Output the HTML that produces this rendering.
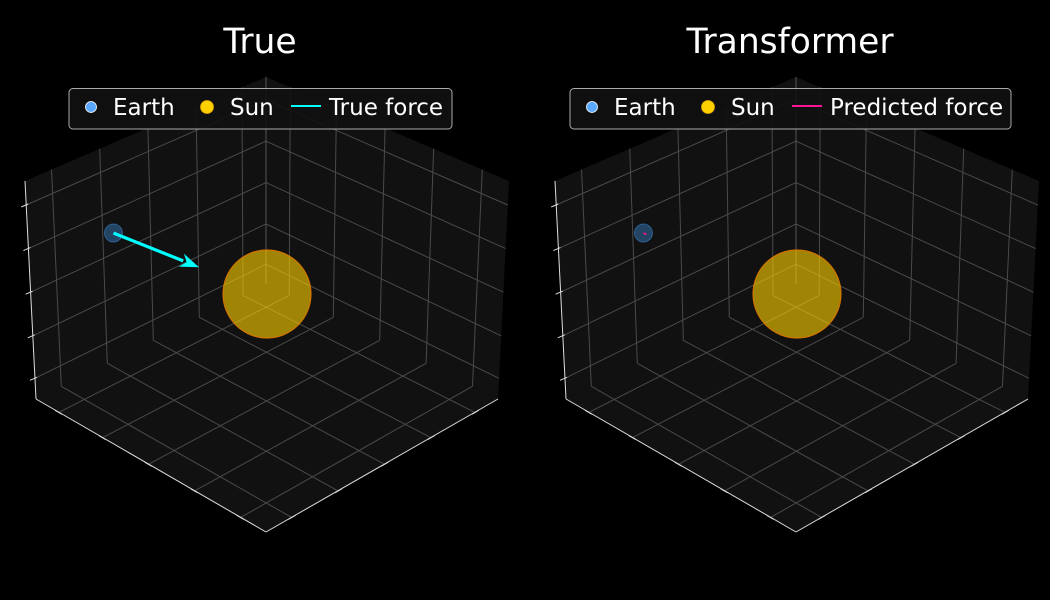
<!DOCTYPE html>
<html><head><meta charset="utf-8"><style>
html,body{margin:0;padding:0;background:#000;}
svg{display:block;font-family:"DejaVu Sans","Liberation Sans",sans-serif;}
</style></head><body>
<svg id="chart" width="1050" height="600" viewBox="0 0 1050 600" xmlns="http://www.w3.org/2000/svg">
<rect width="1050" height="600" fill="#000"/>
</svg>
<script>
// Data (axes range -2..2 on each axis)
const panelTitles = ["True", "Transformer"];
const forceLabels = ["True force", "Predicted force"];
const forceColors = ["#00ffff", "#ff1493"];
const sunPos = [0, 0, 0];
const earthPos = [-1.48, 1.16, 1.0];
const trueForce = [0.83, -0.65, -0.56];
const predForce = [0.03, -0.02, -0.02];
const gridFracA = [0.1, 0.29, 0.49, 0.69, 0.89];
const gridFracZ = [0.11, 0.31, 0.51, 0.71, 0.905];

const NS = "http://www.w3.org/2000/svg";
const svg = document.getElementById('chart');
function mk(tag, attrs, parent) {
  const e = document.createElementNS(NS, tag);
  for (const k in attrs) e.setAttribute(k, attrs[k]);
  (parent || svg).appendChild(e);
  return e;
}
function bil(q, u, v) {
  const [a, b, c, d] = q;
  return [
    a[0]*(1-u)*(1-v) + b[0]*u*(1-v) + c[0]*(1-u)*v + d[0]*u*v,
    a[1]*(1-u)*(1-v) + b[1]*u*(1-v) + c[1]*(1-u)*v + d[1]*u*v
  ];
}
function lineP(p, q, stroke, w, parent, name) {
  const l = mk('line', {x1: p[0], y1: p[1], x2: q[0], y2: q[1], stroke: stroke, 'stroke-width': w}, parent);
  
  
  return l;
}

function panel(idx, dx) {
  const g = mk('g', {});
  
  
  const P = (x, y) => [x + dx, y];
  const TB = P(266, 77), TL = P(25, 181), TR = P(509, 181);
  const B = P(266, 284), L = P(36, 399), R = P(498, 399), F = P(266, 532);
  const pane = (pts, name) => {
    const p = mk('polygon', {points: pts.map(p => p.join(',')).join(' '), fill: '#111111'}, g);
    
    
  };
  pane([L, B, R, F], 'floor-pane');
  pane([TL, TB, B, L], 'left-wall-pane');
  pane([TB, TR, R, B], 'right-wall-pane');
  const gc = '#4a4a4a';
  const floor = [L, F, B, R];
  gridFracA.forEach(u => lineP(bil(floor, u, 0), bil(floor, u, 1), gc, 1, g, 'floor-gridline'));
  gridFracA.forEach(f => { const v = 1 - f; lineP(bil(floor, 0, v), bil(floor, 1, v), gc, 1, g, 'floor-gridline'); });
  const lw = [L, B, TL, TB];
  gridFracA.forEach(f => { const u = 1 - f; lineP(bil(lw, u, 0), bil(lw, u, 1), gc, 1, g, 'left-wall-gridline'); });
  gridFracZ.forEach(z => { const v = 1 - z; lineP(bil(lw, 0, v), bil(lw, 1, v), gc, 1, g, 'left-wall-gridline'); });
  const rw = [B, R, TB, TR];
  gridFracA.forEach(u => lineP(bil(rw, u, 0), bil(rw, u, 1), gc, 1, g, 'right-wall-gridline'));
  gridFracZ.forEach(z => { const v = 1 - z; lineP(bil(rw, 0, v), bil(rw, 1, v), gc, 1, g, 'right-wall-gridline'); });
  lineP(TB, B, '#555', 1, g, 'back-edge');
  lineP(L, F, '#ddd', 1, g, 'x-axis-line');
  lineP(F, R, '#ddd', 1, g, 'y-axis-line');
  lineP(TL, L, '#ddd', 1, g, 'z-axis-line');
  gridFracA.forEach(u => { const p = bil(floor, u, 0); lineP([p[0]-4, p[1]-2], [p[0]+3, p[1]+2], '#ddd', 1, g, 'x-tick'); });
  gridFracA.forEach(f => { const p = bil(floor, 1, 1 - f); lineP([p[0]+4, p[1]-2], [p[0]-3, p[1]+2], '#ddd', 1, g, 'y-tick'); });
  gridFracZ.forEach(z => { const p = bil(lw, 0, 1 - z); lineP([p[0]-5, p[1]+2], [p[0]+2, p[1]-1], '#ddd', 1, g, 'z-tick'); });

  const origin = [266 + dx, 294];
  const ex = [58, 28.75], ey = [-57.5, 28.75], ez = [0, -51.75];
  const proj = p => [origin[0] + p[0]*ex[0] + p[1]*ey[0] + p[2]*ez[0],
                     origin[1] + p[0]*ex[1] + p[1]*ey[1] + p[2]*ez[1]];
  const s = proj(sunPos);
  const sun = mk('circle', {cx: s[0] + 1, cy: s[1], r: 44, fill: 'rgba(255,210,0,0.6)', stroke: 'rgba(220,120,0,0.9)', 'stroke-width': 1.2}, g);
  
  
  const e = proj(earthPos);
  const earth = mk('circle', {cx: e[0], cy: e[1], r: 9, fill: 'rgba(60,130,200,0.45)', stroke: 'rgba(60,130,200,0.6)', 'stroke-width': 1}, g);
  
  
  const f = idx === 0 ? trueForce : predForce;
  const tip = proj([earthPos[0]+f[0], earthPos[1]+f[1], earthPos[2]+f[2]]);
  const ddx = tip[0]-e[0], ddy = tip[1]-e[1];
  const len = Math.hypot(ddx, ddy) || 1;
  const ux = ddx/len, uy = ddy/len;
  const hl = Math.min(19, len*0.6), hw = Math.min(7, len*0.4);
  const base = [tip[0]-ux*hl, tip[1]-uy*hl];
  const col = forceColors[idx];
  const shaft = mk('line', {x1: e[0], y1: e[1], x2: base[0]+ux*2, y2: base[1]+uy*2, stroke: col, 'stroke-width': len > 10 ? 3.2 : 1.5}, g);
  
  
  const head = mk('polygon', {points: [tip, [base[0]-uy*hw, base[1]+ux*hw], [base[0]+ux*hl*0.3, base[1]+uy*hl*0.3], [base[0]+uy*hw, base[1]-ux*hw]].map(p => p.join(',')).join(' '), fill: col}, g);
  
  

  const t = mk('text', {x: 260 + dx, y: 53, fill: '#fff', 'font-size': 34.5, 'text-anchor': 'middle'}, g);
  t.textContent = panelTitles[idx];
  
  

  const lg = mk('g', {}, g);
  
  
  const lx = idx === 0 ? 69 : 570, rx = idx === 0 ? 452 : 1011;
  const box = mk('rect', {x: lx, y: 88.5, width: rx - lx, height: 40.5, rx: 4, fill: 'rgba(17,17,17,0.9)', stroke: '#aaa', 'stroke-width': 1}, lg);
  
  
  const m1 = mk('circle', {cx: lx + 22, cy: 107, r: 5.5, fill: '#5aa9ff', stroke: '#fff', 'stroke-width': 0.8}, lg);
  
  
  const t1 = mk('text', {x: lx + 44, y: 115, fill: '#fff', 'font-size': 23}, lg);
  t1.textContent = 'Earth';
  
  
  const m2 = mk('circle', {cx: lx + 138, cy: 107, r: 6.5, fill: '#ffd000', stroke: '#e0a000', 'stroke-width': 0.8}, lg);
  
  
  const t2 = mk('text', {x: lx + 161, y: 115, fill: '#fff', 'font-size': 23}, lg);
  t2.textContent = 'Sun';
  
  
  const l3 = mk('line', {x1: lx + 222, y1: 106, x2: lx + 252, y2: 106, stroke: col, 'stroke-width': 2}, lg);
  
  
  const t3 = mk('text', {x: lx + 260, y: 115, fill: '#fff', 'font-size': 23}, lg);
  t3.textContent = forceLabels[idx];
  
  
}
panel(0, 0);
panel(1, 530);
</script>
</body></html>
